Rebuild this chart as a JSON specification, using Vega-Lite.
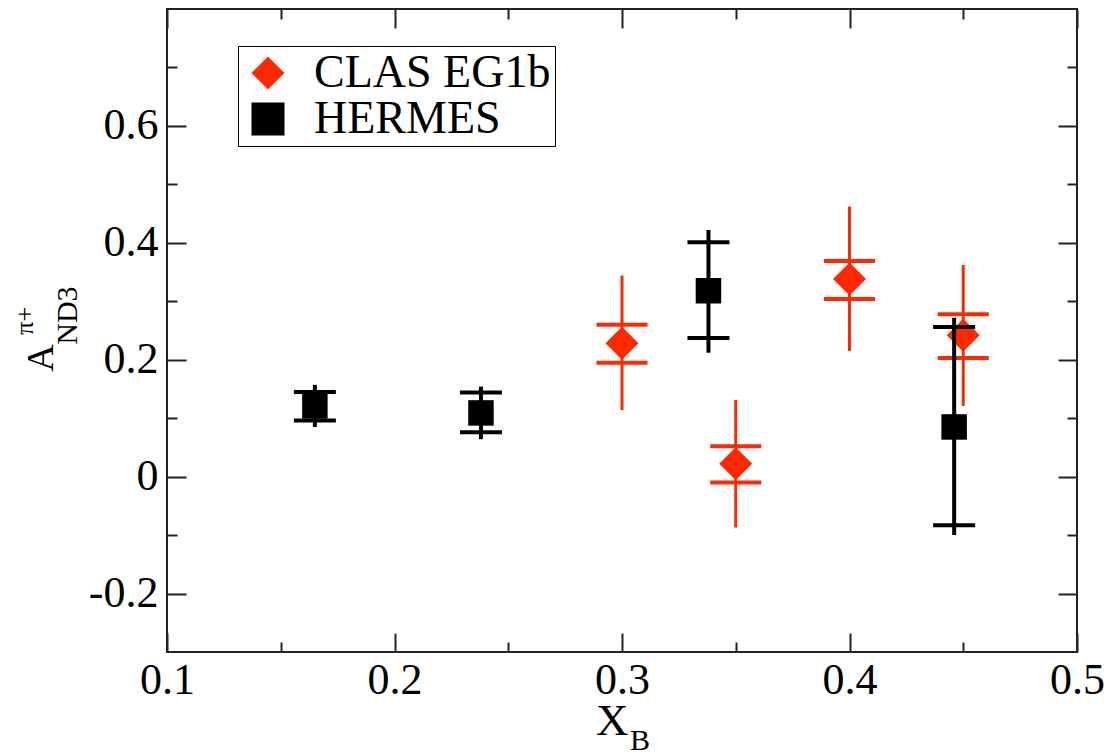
{
  "$schema": "https://vega.github.io/schema/vega-lite/v6.json",
  "width": 910,
  "height": 643,
  "autosize": "none",
  "padding": {"left": 167, "top": 9, "right": 42, "bottom": 103},
  "background": "white",
  "config": {
    "font": "Liberation Serif, Times New Roman, Times, DejaVu Serif, serif",
    "view": {"stroke": "#222", "strokeWidth": 2},
    "axis": {
      "domain": false,
      "grid": false,
      "tickColor": "#222",
      "tickWidth": 2,
      "labelFont": "Liberation Serif, Times New Roman, Times, DejaVu Serif, serif",
      "labelFontSize": 44,
      "labelColor": "#000",
      "labelOverlap": false,
      "labelFlush": false,
      "labelBound": false
    },
    "legend": {
      "orient": "none",
      "legendX": 71,
      "legendY": 37,
      "padding": 4,
      "strokeColor": "#000",
      "labelFont": "Liberation Serif, Times New Roman, Times, DejaVu Serif, serif",
      "labelFontSize": 46,
      "labelColor": "#000",
      "labelLimit": 500,
      "symbolSize": 1089,
      "symbolOffset": 3,
      "labelOffset": 23,
      "rowPadding": -3,
      "symbolStrokeWidth": 0
    }
  },
  "datasets": {
    "pts": [
      {"series": "CLAS EG1b", "x": 0.30, "y": 0.228, "lo": 0.114, "hi": 0.344, "slo": 0.195, "shi": 0.260},
      {"series": "CLAS EG1b", "x": 0.35, "y": 0.022, "lo": -0.087, "hi": 0.131, "slo": -0.010, "shi": 0.052},
      {"series": "CLAS EG1b", "x": 0.40, "y": 0.338, "lo": 0.215, "hi": 0.462, "slo": 0.304, "shi": 0.369},
      {"series": "CLAS EG1b", "x": 0.45, "y": 0.242, "lo": 0.121, "hi": 0.362, "slo": 0.203, "shi": 0.278},
      {"series": "HERMES", "x": 0.165, "y": 0.121, "lo": 0.085, "hi": 0.157, "slo": 0.096, "shi": 0.145},
      {"series": "HERMES", "x": 0.238, "y": 0.109, "lo": 0.064, "hi": 0.154, "slo": 0.076, "shi": 0.144},
      {"series": "HERMES", "x": 0.338, "y": 0.318, "lo": 0.212, "hi": 0.422, "slo": 0.237, "shi": 0.401},
      {"series": "HERMES", "x": 0.446, "y": 0.085, "lo": -0.100, "hi": 0.272, "slo": -0.083, "shi": 0.256}
    ]
  },
  "data": {"name": "pts"},
  "resolve": {"axis": {"x": "independent", "y": "independent"}},
  "layer": [
    {
      "transform": [{"filter": "datum.series === 'CLAS EG1b'"}],
      "mark": {"type": "rule", "color": "#ff2800", "strokeWidth": 3},
      "encoding": {
        "x": {"field": "x", "type": "quantitative", "scale": {"domain": [0.1, 0.5], "nice": false, "zero": false},
          "axis": {"orient": "bottom", "title": null, "values": [0.1, 0.15, 0.2, 0.25, 0.3, 0.35, 0.4, 0.45, 0.5],
            "tickSize": {"condition": {"test": "round(datum.value*100) % 10 == 0", "value": -19}, "value": -10},
            "labelExpr": "round(datum.value*100) % 10 == 0 ? format(datum.value, '.1f') : ''",
            "labelPadding": 25}},
        "y": {"field": "lo", "type": "quantitative", "scale": {"domain": [-0.3, 0.8], "nice": false, "zero": false},
          "axis": {"orient": "left", "title": null, "values": [-0.2, -0.1, 0, 0.1, 0.2, 0.3, 0.4, 0.5, 0.6, 0.7],
            "tickSize": {"condition": {"test": "abs(round(datum.value*10)) % 2 == 0", "value": -19}, "value": -10},
            "labelExpr": "abs(round(datum.value*10)) % 2 == 0 ? (datum.value == 0 ? '0' : (datum.value < 0 ? '-' : '') + format(abs(datum.value), '.1f')) : ''",
            "labelPadding": 28}},
        "y2": {"field": "hi"}
      }
    },
    {
      "transform": [{"filter": "datum.series === 'CLAS EG1b'"}],
      "mark": {"type": "tick", "orient": "horizontal", "color": "#ff2800", "size": 51, "thickness": 4, "opacity": 1},
      "encoding": {
        "x": {"field": "x", "type": "quantitative",
          "axis": {"orient": "top", "title": null, "labels": false, "values": [0.1, 0.15, 0.2, 0.25, 0.3, 0.35, 0.4, 0.45, 0.5],
            "tickSize": {"condition": {"test": "round(datum.value*100) % 10 == 0", "value": -19}, "value": -10}}},
        "y": {"field": "slo", "type": "quantitative",
          "axis": {"orient": "right", "title": null, "labels": false, "values": [-0.2, -0.1, 0, 0.1, 0.2, 0.3, 0.4, 0.5, 0.6, 0.7],
            "tickSize": {"condition": {"test": "abs(round(datum.value*10)) % 2 == 0", "value": -19}, "value": -10}}}
      }
    },
    {
      "transform": [{"filter": "datum.series === 'CLAS EG1b'"}],
      "mark": {"type": "tick", "orient": "horizontal", "color": "#ff2800", "size": 51, "thickness": 4, "opacity": 1},
      "encoding": {
        "x": {"field": "x", "type": "quantitative", "axis": null},
        "y": {"field": "shi", "type": "quantitative", "axis": null}
      }
    },
    {
      "transform": [{"filter": "datum.series === 'CLAS EG1b'"}],
      "mark": {"type": "point", "filled": true, "opacity": 1, "size": 1089, "strokeWidth": 0},
      "encoding": {
        "x": {"field": "x", "type": "quantitative", "axis": null},
        "y": {"field": "y", "type": "quantitative", "axis": null},
        "color": {"field": "series", "type": "nominal",
          "scale": {"domain": ["CLAS EG1b", "HERMES"], "range": ["#ff2800", "#000000"]},
          "legend": {"title": null, "encode": {"symbols": {"update": {"size": {"signal": "datum.value === 'HERMES' ? 625 : 1089"}}}, "legend": {"update": {"strokeWidth": {"value": 1.5}}}}}},
        "shape": {"field": "series", "type": "nominal",
          "scale": {"domain": ["CLAS EG1b", "HERMES"], "range": ["diamond", "square"]},
          "legend": {"title": null}}
      }
    },
    {
      "transform": [{"filter": "datum.series === 'HERMES'"}],
      "mark": {"type": "rule", "color": "#000000", "strokeWidth": 4},
      "encoding": {
        "x": {"field": "x", "type": "quantitative", "axis": null},
        "y": {"field": "lo", "type": "quantitative", "axis": null},
        "y2": {"field": "hi"}
      }
    },
    {
      "transform": [{"filter": "datum.series === 'HERMES'"}],
      "mark": {"type": "tick", "orient": "horizontal", "color": "#000000", "size": 42, "thickness": 4, "opacity": 1},
      "encoding": {
        "x": {"field": "x", "type": "quantitative", "axis": null},
        "y": {"field": "slo", "type": "quantitative", "axis": null}
      }
    },
    {
      "transform": [{"filter": "datum.series === 'HERMES'"}],
      "mark": {"type": "tick", "orient": "horizontal", "color": "#000000", "size": 42, "thickness": 4, "opacity": 1},
      "encoding": {
        "x": {"field": "x", "type": "quantitative", "axis": null},
        "y": {"field": "shi", "type": "quantitative", "axis": null}
      }
    },
    {
      "transform": [{"filter": "datum.series === 'HERMES'"}],
      "mark": {"type": "point", "filled": true, "opacity": 1, "size": 650, "strokeWidth": 0},
      "encoding": {
        "x": {"field": "x", "type": "quantitative", "axis": null},
        "y": {"field": "y", "type": "quantitative", "axis": null},
        "color": {"field": "series", "type": "nominal"},
        "shape": {"field": "series", "type": "nominal"}
      }
    },
    {
      "data": {"values": [{}]},
      "mark": {"type": "text", "text": "X", "font": "Liberation Serif, Times New Roman, Times, DejaVu Serif, serif", "fontSize": 45, "align": "left", "baseline": "alphabetic", "color": "#000", "dx": -26, "dy": 83},
      "encoding": {
        "x": {"datum": 0.3, "type": "quantitative", "axis": null},
        "y": {"datum": -0.3, "type": "quantitative", "axis": null}
      }
    },
    {
      "data": {"values": [{}]},
      "mark": {"type": "text", "text": "B", "font": "Liberation Serif, Times New Roman, Times, DejaVu Serif, serif", "fontSize": 30, "align": "left", "baseline": "alphabetic", "color": "#000", "dx": 8, "dy": 98},
      "encoding": {
        "x": {"datum": 0.3, "type": "quantitative", "axis": null},
        "y": {"datum": -0.3, "type": "quantitative", "axis": null}
      }
    },
    {
      "data": {"values": [{}]},
      "mark": {"type": "text", "text": "A", "font": "Liberation Serif, Times New Roman, Times, DejaVu Serif, serif", "fontSize": 38, "angle": 270, "align": "left", "baseline": "alphabetic", "color": "#000", "dx": -12, "dy": -114},
      "encoding": {
        "x": {"datum": 0.1, "type": "quantitative", "axis": null},
        "y": {"datum": 0.2, "type": "quantitative", "axis": null}
      }
    },
    {
      "data": {"values": [{}]},
      "mark": {"type": "text", "text": "ND3", "font": "Liberation Serif, Times New Roman, Times, DejaVu Serif, serif", "fontSize": 30, "angle": 270, "align": "left", "baseline": "alphabetic", "color": "#000", "dx": 15, "dy": -90},
      "encoding": {
        "x": {"datum": 0.1, "type": "quantitative", "axis": null},
        "y": {"datum": 0.2, "type": "quantitative", "axis": null}
      }
    },
    {
      "data": {"values": [{}]},
      "mark": {"type": "text", "text": "π+", "font": "Liberation Serif, Times New Roman, Times, DejaVu Serif, serif", "fontSize": 26, "angle": 270, "align": "left", "baseline": "alphabetic", "color": "#000", "dx": 25, "dy": -134},
      "encoding": {
        "x": {"datum": 0.1, "type": "quantitative", "axis": null},
        "y": {"datum": 0.2, "type": "quantitative", "axis": null}
      }
    }
  ]
}
